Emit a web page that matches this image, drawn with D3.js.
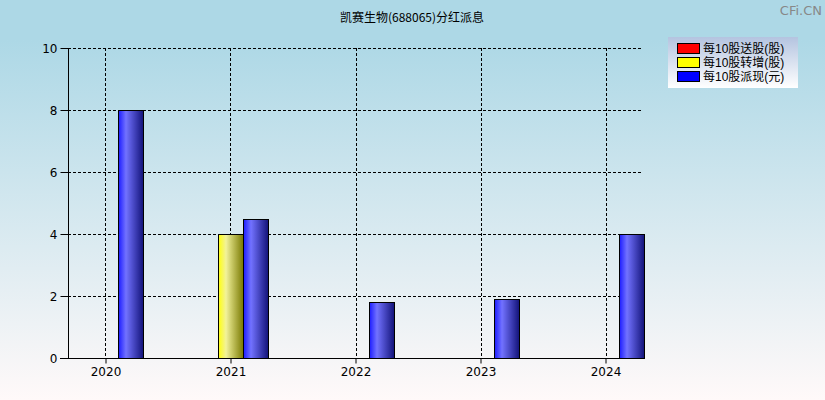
<!DOCTYPE html>
<html><head><meta charset="utf-8">
<script src="https://cdn.jsdelivr.net/npm/d3@7/dist/d3.min.js"></script>
<style>body{margin:0;padding:0;overflow:hidden}svg{display:block}</style>
</head><body>
<script>
const years = [2020, 2021, 2022, 2023, 2024];
const songGu = [0, 0, 0, 0, 0];
const zhuanZeng = [0, 4, 0, 0, 0];
const paiXian = [8, 4.5, 1.8, 1.9, 4];
const seriesNames = ["每10股送股(股)", "每10股转增(股)", "每10股派现(元)"];
const yTicks = [0, 2, 4, 6, 8, 10];
const title = "凯赛生物(688065)分红派息";

const W = 825, H = 400;
const svg = d3.select("body").append("svg").attr("width", W).attr("height", H);
const defs = svg.append("defs");

const bg = defs.append("linearGradient").attr("id","bg").attr("x1",0).attr("y1",0).attr("x2",0).attr("y2",1);
bg.append("stop").attr("offset","0%").attr("stop-color","#add8e6");
bg.append("stop").attr("offset","10%").attr("stop-color","#add8e6");
bg.append("stop").attr("offset","100%").attr("stop-color","#fff9f9");
svg.append("rect").attr("width",W).attr("height",H).attr("fill","url(#bg)");

function barGrad(id, c0, c1, c2) {
  const g = defs.append("linearGradient").attr("id", id).attr("x1",0).attr("y1",0).attr("x2",1).attr("y2",0);
  g.append("stop").attr("offset","0%").attr("stop-color",c0);
  g.append("stop").attr("offset","30%").attr("stop-color",c1);
  g.append("stop").attr("offset","100%").attr("stop-color",c2);
}
barGrad("gRed", "#ff1010", "#ff7070", "#780000");
barGrad("gYel", "#ffff10", "#f2f29a", "#787800");
barGrad("gBlu", "#1c1cff", "#7272ff", "#121278");
const fills = ["url(#gRed)", "url(#gYel)", "url(#gBlu)"];
const legendColors = ["#ff0000", "#ffff00", "#0000ff"];

const pLeft = 68, pRight = 643, pTop = 48, pBottom = 358;
const x = d3.scaleLinear().domain([years[0]-0.3, years[years.length-1]+0.3]).range([pLeft, pRight]);
const y = d3.scaleLinear().domain([0, 10]).range([pBottom, pTop]);

// title
svg.append("text").attr("x", 412).attr("y", 22).attr("text-anchor","middle")
  .attr("font-family","'Noto Sans CJK SC', sans-serif").attr("font-size", 12).attr("fill","#000").text(title);
svg.append("text").attr("x", 822).attr("y", 15).attr("text-anchor","end")
  .attr("font-family","'DejaVu Sans', sans-serif").attr("font-size", 13).attr("fill","#888").text("CFi.CN");

// grid
const grid = svg.append("g").attr("stroke","#000").attr("stroke-dasharray","3,2").attr("stroke-width",1);
yTicks.filter(t => t > 0).forEach(t => {
  grid.append("line").attr("x1", pLeft).attr("x2", pRight).attr("y1", Math.round(y(t))+0.5).attr("y2", Math.round(y(t))+0.5);
});
years.forEach(yr => {
  const xx = Math.round(x(yr)) + 0.5;
  grid.append("line").attr("x1", xx).attr("x2", xx).attr("y1", pTop).attr("y2", pBottom);
});

// bars
const seriesData = [songGu, zhuanZeng, paiXian];
const bw = 25;
seriesData.forEach((vals, si) => {
  svg.append("g").selectAll("rect").data(vals.map((v,i)=>({v, yr: years[i]})).filter(d => d.v > 0))
    .join("rect")
    .attr("x", d => Math.round(x(d.yr) + (si-1)*bw - 12) + 0.5)
    .attr("y", d => Math.round(y(d.v)) + 0.5)
    .attr("width", bw)
    .attr("height", d => Math.round(y(0)) - Math.round(y(d.v)))
    .attr("fill", fills[si])
    .attr("stroke", "#000").attr("stroke-width", 1);
});

// axes
const yAxis = d3.axisLeft(y).tickValues(yTicks).tickSize(8).tickFormat(d3.format("d"));
const yg = svg.append("g").attr("transform", `translate(${pLeft+0.5},0)`).call(yAxis);
const xAxis = d3.axisBottom(x).tickValues(years).tickSize(5).tickFormat(d3.format("d"));
const xg = svg.append("g").attr("transform", `translate(0,${pBottom+0.5})`).call(xAxis);
[yg, xg].forEach(g => {
  g.selectAll("path.domain").attr("stroke","#000");
  g.selectAll(".tick line").attr("stroke","#000");
  g.selectAll("text").attr("font-family","'DejaVu Sans', sans-serif").attr("font-size", 12).attr("fill","#000");
});
yg.select("path.domain").attr("d", `M0,${pTop}V${pBottom}`);
xg.select("path.domain").attr("d", `M${pLeft-8},0H${pRight}`);
yg.selectAll(".tick text").attr("x", -11).attr("dy","0.35em");
xg.selectAll(".tick text").attr("y", 9);

// legend
const lg = defs.append("linearGradient").attr("id","lg").attr("x1",0).attr("y1",0).attr("x2",0).attr("y2",1);
lg.append("stop").attr("offset","0%").attr("stop-color","#b4c4e0");
lg.append("stop").attr("offset","100%").attr("stop-color","#ffffff");
svg.append("rect").attr("x", 668).attr("y", 37).attr("width", 130).attr("height", 51).attr("fill","url(#lg)");
seriesNames.forEach((nm, i) => {
  const yy = 43 + i*14;
  svg.append("rect").attr("x", 677.5).attr("y", yy+0.5).attr("width", 22).attr("height", 10)
    .attr("fill", legendColors[i]).attr("stroke","#000");
  svg.append("text").attr("x", 703).attr("y", yy+10).attr("font-family","'Liberation Sans', 'Noto Sans CJK SC', sans-serif")
    .attr("font-size", 12).attr("fill","#000").text(nm);
});
</script>
</body></html>
